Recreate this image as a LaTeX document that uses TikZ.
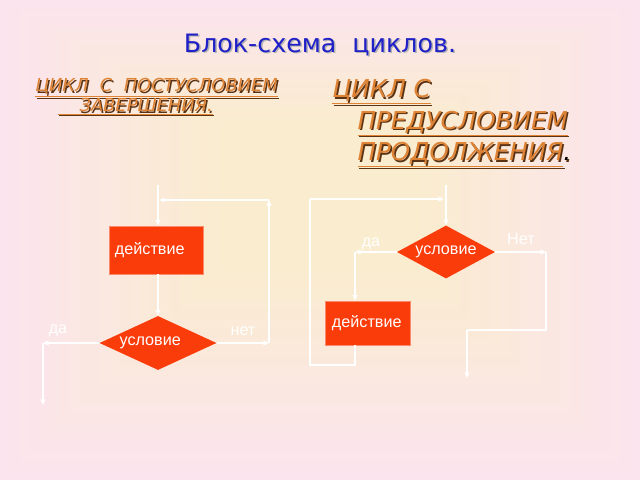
\documentclass[tikz,border=0pt]{standalone}
\usepackage{fontspec}
\setmainfont{DejaVu Sans}
\newfontfamily\arialfont{Liberation Sans}
\usepackage{xcolor}
\usetikzlibrary{arrows.meta}
\usetikzlibrary{shapes.geometric}

\definecolor{bgpink}{RGB}{252,228,238}
\definecolor{bgpeach}{RGB}{250,236,206}
\definecolor{blockred}{RGB}{250,60,10}
\definecolor{titleblue}{RGB}{32,32,200}
\definecolor{headorange}{RGB}{222,130,52}
\definecolor{headshadow}{RGB}{90,50,20}

\tikzset{
  act/.style={draw=blockred!60!white, fill=blockred, text=white, inner ysep=1pt, align=left,
    font=\arialfont\fontsize{11.5}{13}\selectfont},
  cond/.style={diamond, fill=blockred, text=white, inner sep=0pt,
    font=\arialfont\fontsize{11.5}{13}\selectfont},
  flow/.style={draw=white, line width=0.8pt, -{Triangle[length=4pt,width=3.5pt]}},
  link/.style={draw=white, line width=0.8pt},
  lbl/.style={text=white, font=\arialfont\fontsize{11.5}{13}\selectfont},
  title/.style={font=\fontsize{18}{22}\selectfont, text=titleblue},
  lefthead/.style={anchor=north west, align=left, inner sep=0pt,
    font=\itshape\fontsize{12.7}{14.5}\selectfont, text=headorange},
  righthead/.style={anchor=north west, align=left, inner sep=0pt,
    font=\itshape\fontsize{17.5}{22.5}\selectfont, text=headorange},
}

\begin{document}
\begin{tikzpicture}[x=0.025cm, y=-0.025cm]
            \useasboundingbox (0,0) rectangle (640,480);
            % background
            \foreach \i in {0,...,30} {
              \pgfmathsetmacro\p{min(100,\i*4.5)}
              \fill[bgpeach!\p!bgpink] (10*\i,5.5*\i) rectangle (640-10*\i,480-9.5*\i);
            }

            % headings
            \draw (321.5,46.5) node[title, text=gray!60] (titlesh) {Блок-схема\ \ циклов.};
            \draw (320,45) node[title] (title) {Блок-схема\ \ циклов.};
            \draw (36.5,79.5) node[lefthead, text=headshadow] (posthsh)
              {\underline{ЦИКЛ\ \ С\ \ ПОСТУСЛОВИЕМ}\\ \hspace*{16pt}\underline{\hspace{15.5pt}ЗАВЕРШЕНИЯ.}};
            \draw (35,78) node[lefthead] (posth)
              {\underline{ЦИКЛ\ \ С\ \ ПОСТУСЛОВИЕМ}\\ \hspace*{16pt}\underline{\hspace{15.5pt}ЗАВЕРШЕНИЯ.}};
            \draw (333.5,80.5) node[righthead, text=headshadow] (prehsh)
              {\underline{ЦИКЛ С}\\ \hspace*{18pt}\underline{ПРЕДУСЛОВИЕМ}\\ \hspace*{18pt}\underline{ПРОДОЛЖЕНИЯ}.};
            \draw (332,79) node[righthead] (preh)
              {\underline{ЦИКЛ С}\\ \hspace*{18pt}\underline{ПРЕДУСЛОВИЕМ}\\ \hspace*{18pt}\underline{ПРОДОЛЖЕНИЯ}{\color{black}.}};

            % loop with postcondition
            \draw (156,250) node[act, inner xsep=0.15cm, text width=2.05cm, minimum height=1.2cm]  (act1) {действие};
            \draw (158,343) node[cond, aspect=2.2, minimum width=2.925cm, minimum height=1.35cm]    (cond1) {условие\hspace*{11pt}};
            \coordinate (in1) at (158,185);
            \coordinate (back1) at (269,343);
            \coordinate (top1) at (269,200);
            \coordinate (join1) at (159,200);
            \coordinate (yes1) at (43,343);
            \coordinate (out1) at (43,405);
            \draw[flow] (in1) -- (in1 |- act1.north);
            \draw[flow] (in1 |- act1.south) -- (cond1);
            \draw[flow] (cond1.west) -- (yes1);
            \draw[flow] (yes1) -- (out1);
            \draw[flow] (cond1.east) -- (back1);
            \draw[flow] (back1) -- (top1);
            \draw[flow] (top1) -- (join1);
            \draw (58,331) node[lbl]                                                  (yes1l) {да};
            \draw (243,331) node[lbl]                                                 (no1l) {нет};

            % loop with precondition
            \draw (446,252) node[cond, aspect=1.85, minimum width=2.45cm, minimum height=1.325cm]  (cond2) {условие};
            \draw (367.5,323) node[act, inner xsep=0.175cm, text width=1.775cm, minimum height=1.1cm] (act2) {действие};
            \coordinate (in2) at (446,185);
            \coordinate (yes2) at (355,252);
            \coordinate (back2a) at (355,365);
            \coordinate (back2b) at (310,365);
            \coordinate (back2c) at (310,199);
            \coordinate (join2) at (444,199);
            \coordinate (no2a) at (546,252);
            \coordinate (no2b) at (546,330);
            \coordinate (no2c) at (467,330);
            \coordinate (out2) at (467,378);
            \draw[flow] (in2) -- (cond2);
            \draw[flow] (cond2.west) -- (yes2);
            \draw[flow] (yes2) -- (yes2 |- act2.north);
            \draw[link] (yes2 |- act2.south) -- (back2a) -- (back2b) -- (back2c);
            \draw[flow] (back2c) -- (join2);
            \draw[flow] (cond2.east) -- (no2a);
            \draw[link] (no2a) -- (no2b) -- (no2c);
            \draw[flow] (no2c) -- (out2);
            \draw (371,244) node[lbl]                                                 (yes2l) {да};
            \draw (521,239) node[lbl]                                                 (no2l) {Нет};

            \end{tikzpicture}
\end{document}
